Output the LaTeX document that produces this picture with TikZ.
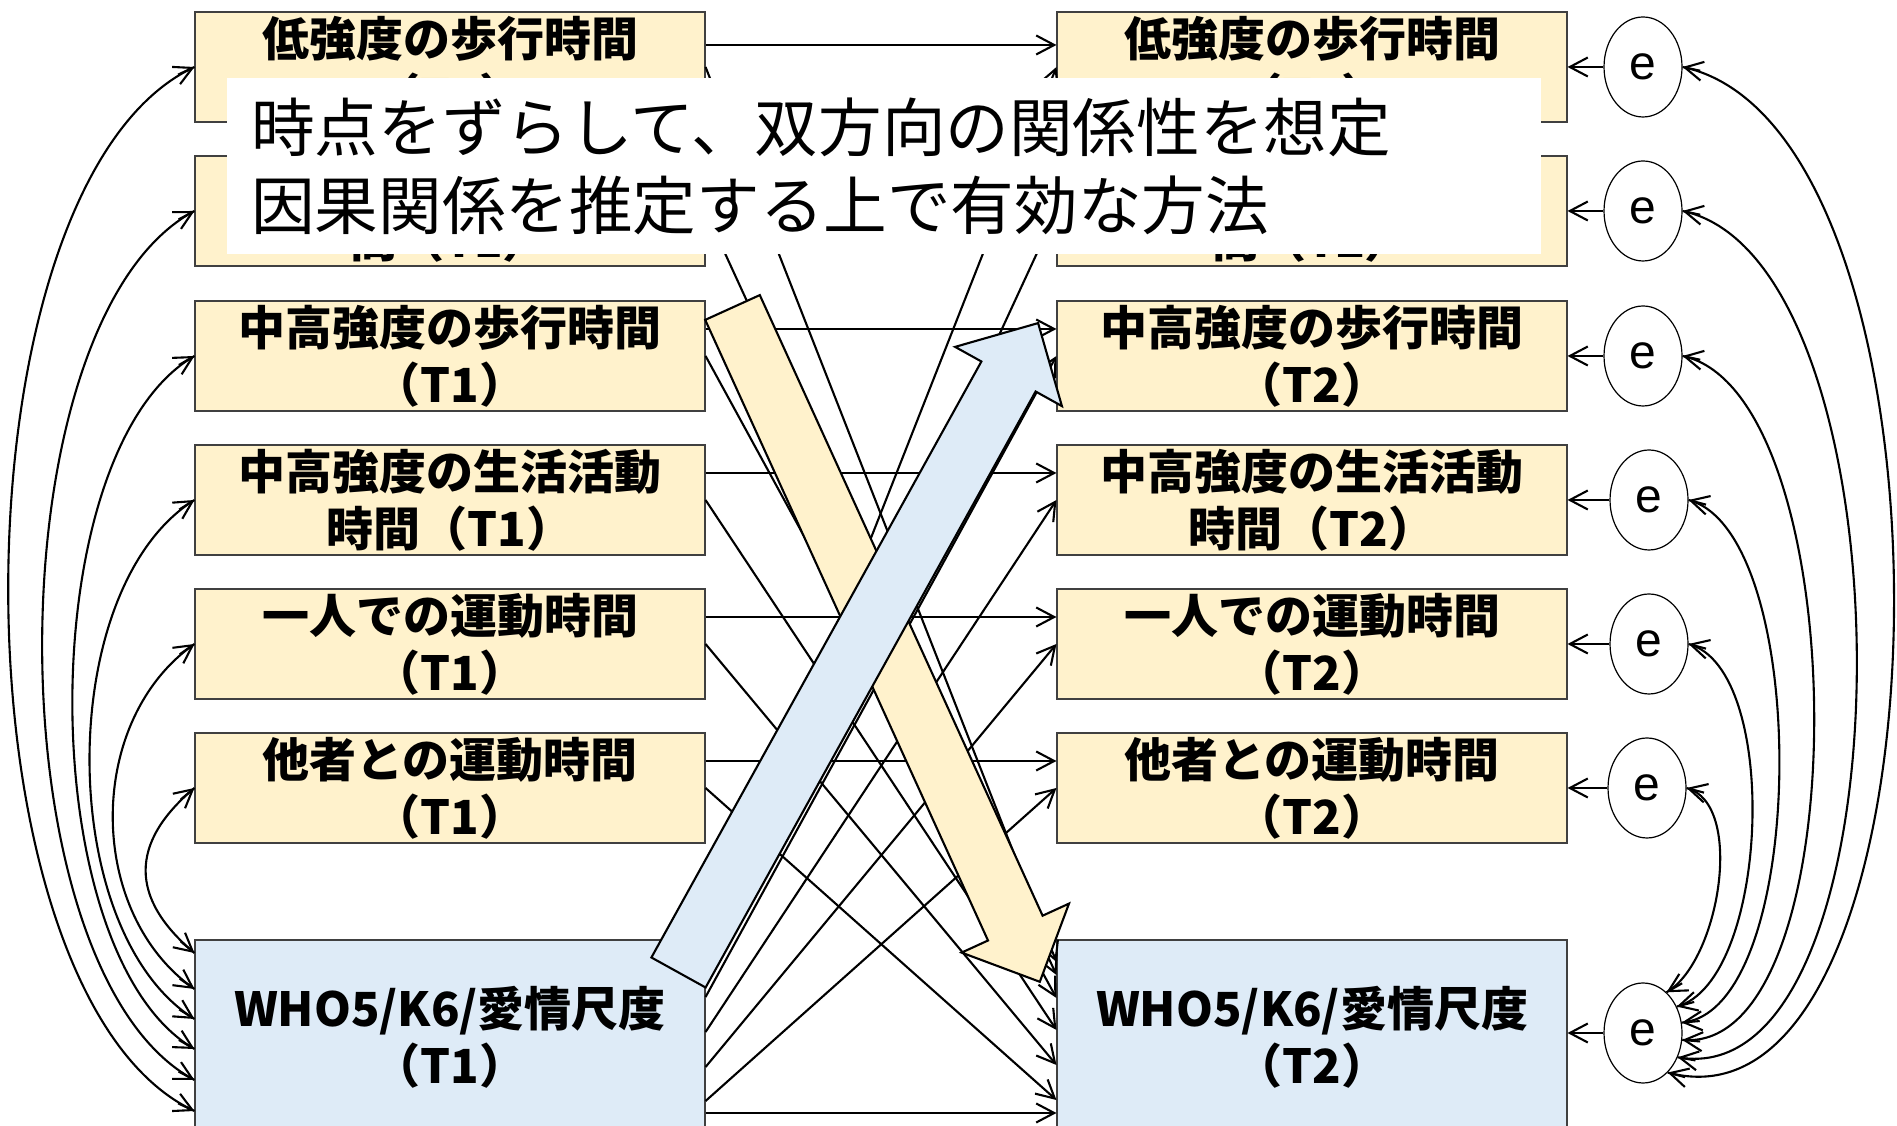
\documentclass[tikz,border=0pt]{standalone}
\usepackage{fontspec}
\setmainfont{Liberation Sans}
\newfontfamily\jpfont{Noto Sans CJK JP}
\newfontfamily\efont{Liberation Sans}
\usetikzlibrary{arrows.meta,shapes.geometric,calc}
\definecolor{boxyellow}{HTML}{FFF2CC}
\definecolor{boxblue}{HTML}{DEEBF7}
\definecolor{boxline}{HTML}{404040}
\begin{document}
\begin{tikzpicture}[x=1pt,y=1pt,
  >={Straight Barb[length=18pt,width=19pt]},
  conn/.style={line width=2.1pt,->},
  covline/.style={line width=2.1pt},
  varbox/.style={draw=boxline,line width=1.1pt,fill=boxyellow,minimum width=510pt,minimum height=110pt,inner sep=0pt,align=center,font=\jpfont\bfseries\fontsize{47}{57}\selectfont},
  whobox/.style={varbox,fill=boxblue,minimum height=194pt},
  errnode/.style={draw,ellipse,line width=1.2pt,minimum width=78pt,minimum height=100pt,inner sep=0pt,font=\efont\fontsize{48}{48}\selectfont},
  bigarrow/.style={draw,line width=2.1pt,line join=miter},
  notebox/.style={fill=white,anchor=north west,text width=1266pt,inner xsep=24pt,inner ysep=0pt,minimum height=176pt,align=left,font=\jpfont\fontsize{63.6}{78}\selectfont}
]
\clip (0,0) rectangle (1897,1126);
\fill[white] (0,0) rectangle (1897,1126);

% T1 boxes
\node[varbox] (L1) at (450,1059) {低強度の歩行時間\\（T1）};
\node[varbox] (L2) at (450,915) {低強度の生活活動時\\間（T1）};
\node[varbox] (L3) at (450,770) {中高強度の歩行時間\\（T1）};
\node[varbox] (L4) at (450,626) {中高強度の生活活動\\時間（T1）};
\node[varbox] (L5) at (450,482) {一人での運動時間\\（T1）};
\node[varbox] (L6) at (450,338) {他者との運動時間\\（T1）};
\node[whobox] (L7) at (450,89) {WHO5/K6/愛情尺度\\（T1）};
% T2 boxes
\node[varbox] (R1) at (1312,1059) {低強度の歩行時間\\（T2）};
\node[varbox] (R2) at (1312,915) {低強度の生活活動時\\間（T2）};
\node[varbox] (R3) at (1312,770) {中高強度の歩行時間\\（T2）};
\node[varbox] (R4) at (1312,626) {中高強度の生活活動\\時間（T2）};
\node[varbox] (R5) at (1312,482) {一人での運動時間\\（T2）};
\node[varbox] (R6) at (1312,338) {他者との運動時間\\（T2）};
\node[whobox] (R7) at (1312,89) {WHO5/K6/愛情尺度\\（T2）};
% error terms
\node[errnode] (E1) at (1643,1059) {e};
\node[errnode] (E2) at (1643,915) {e};
\node[errnode] (E3) at (1643,770) {e};
\node[errnode] (E4) at (1649,626) {e};
\node[errnode] (E5) at (1649,482) {e};
\node[errnode] (E6) at (1647,338) {e};
\node[errnode] (E7) at (1643,93) {e};

% autoregressive paths
\draw[conn] ([yshift=22pt]L1.east) -- ([yshift=22pt]R1.west);
\foreach \i in {2,...,6}{
  \draw[conn] ([yshift=27pt]L\i.east) -- ([yshift=27pt]R\i.west);
}
\draw[conn] ([yshift=-76pt]L7.east) -- ([yshift=-76pt]R7.west);

% cross-lagged: T1 activity -> T2 WHO
\draw[conn] (L1.east) -- ([yshift=75pt]R7.west);
\draw[conn] (L2.east) -- ([yshift=62pt]R7.west);
\draw[conn] (L3.east) -- ([yshift=39pt]R7.west);
\draw[conn] (L4.east) -- ([yshift=7pt]R7.west);
\draw[conn] (L5.east) -- ([yshift=-28pt]R7.west);
\draw[conn] (L6.east) -- ([yshift=-63pt]R7.west);
% cross-lagged: T1 WHO -> T2 activity
\draw[conn] ([yshift=79pt]L7.east) -- (R1.west);
\draw[conn] ([yshift=67pt]L7.east) -- (R2.west);
\draw[conn] ([yshift=40pt]L7.east) -- (R3.west);
\draw[conn] ([yshift=5pt]L7.east) -- (R4.west);
\draw[conn] ([yshift=-30pt]L7.east) -- (R5.west);
\draw[conn] ([yshift=-64pt]L7.east) -- (R6.west);

% error arrows
\foreach \i in {1,...,7}{
  \draw[conn] (E\i.west) -- (E\i.west -| R\i.east);
}

% T1 covariances (double-headed curves)
\foreach \k/\s/\ao/\ai/\d in {1/-74/155/205/274, 2/-43/152/208/230, 3/-12/150/210/188, 4/18/148/212/165, 5/48/145/215/133, 6/84/140/220/85}{
  \coordinate (ca\k) at ($(L7.west)+(0,\s)$);
  \draw[covline] (ca\k) .. controls ($(ca\k)+(\ao:\d)$) and ($(L\k.west)+(\ai:\d)$) .. (L\k.west);
  \draw[conn] ($(ca\k)+(\ao:18)$) -- (ca\k);
  \draw[conn] ($(L\k.west)+(\ai:18)$) -- (L\k.west);
}

% error covariances (double-headed curves)
\foreach \k/\an/\ao/\ai/\d in {1/-58/-12/-15/300, 2/-35/-12/-10/240, 3/-10/-12/-5/178, 4/15/-15/5/128, 5/38/-15/15/96, 6/60/-15/30/61}{
  \coordinate (eb\k) at (E7.\an);
  \draw[covline] (E\k.east) .. controls ($(E\k.east)+(\ao:\d)$) and ($(eb\k)+(\ai:\d)$) .. (eb\k);
  \draw[conn] ($(E\k.east)+(\ao:18)$) -- (E\k.east);
  \draw[conn] ($(eb\k)+(\ai:18)$) -- (eb\k);
}

% big arrows
\draw[bigarrow,fill=boxyellow] (705.2,806.1) -- (759.8,830.9) -- (1042.6,210.3) -- (1069,222.4) -- (1039.8,144.2) -- (961.6,173.4) -- (988,185.5) -- cycle;
\draw[bigarrow,fill=boxblue] (705.6,138.5) -- (651.4,168.5) -- (981.4,764.5) -- (955.1,779.1) -- (1038.1,802.9) -- (1061.9,719.9) -- (1035.6,734.5) -- cycle;

% overlay note
\node[notebox] (note) at (227,1048) {時点をずらして、双方向の関係性を想定\\因果関係を推定する上で有効な方法};
\end{tikzpicture}
\end{document}
